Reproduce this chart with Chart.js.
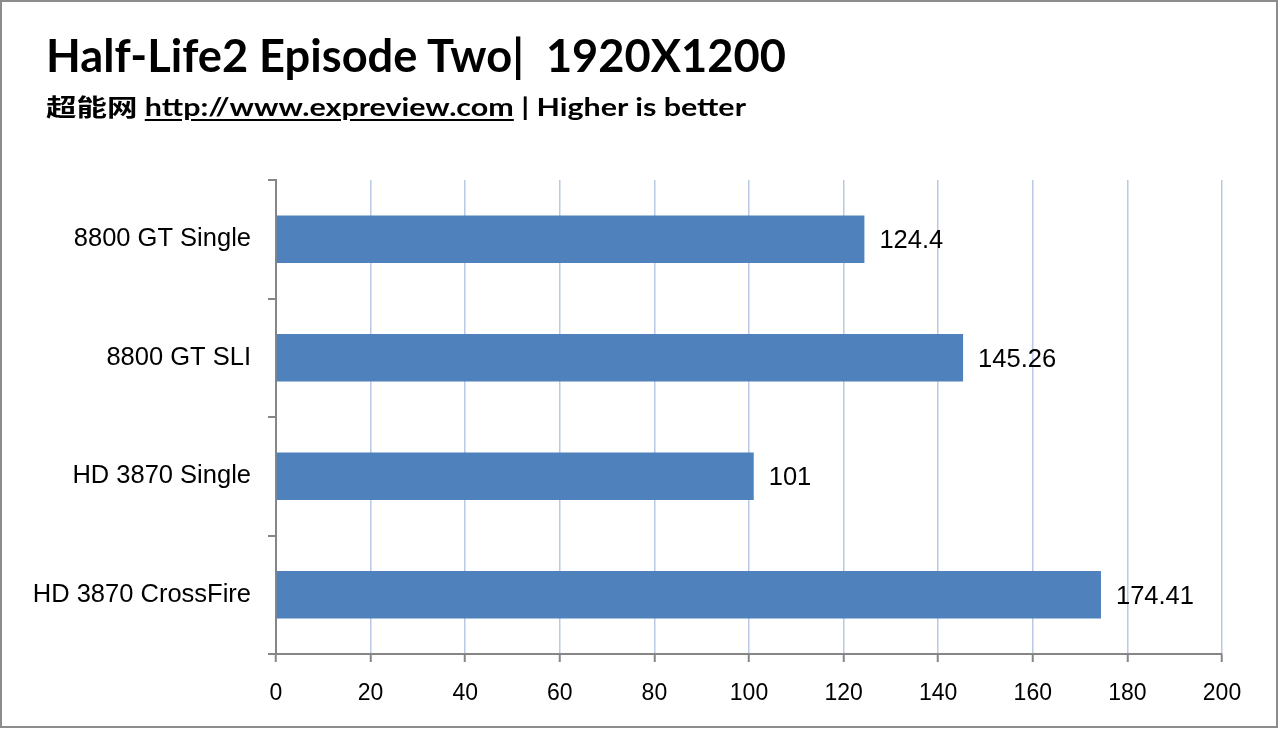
<!DOCTYPE html>
<html>
<head>
<meta charset="utf-8">
<script src="https://cdn.jsdelivr.net/npm/chart.js@4"></script>
<style>
  html, body { margin: 0; padding: 0; background: #fff; }
  #wrap { position: relative; width: 1280px; height: 729px; overflow: hidden; }
  #frame { position: absolute; left: 0; top: 0; width: 1278px; height: 728px; box-sizing: border-box;
           border: 2px solid #8c8c8c; pointer-events: none; }
  .t { position: absolute; left: 46px; white-space: nowrap; color: #000; font-weight: bold;
       transform-origin: 0 0; }
  #title { top: 28px; font: bold 45px Lato, "Noto Sans", sans-serif; }
  #sub { top: 88px; font: bold 24px Lato, "Noto Sans CJK SC", sans-serif; }
  #sub .cn { font-family: "Noto Sans CJK SC", sans-serif; }
  #sub u { text-decoration-thickness: 2px; text-underline-offset: 3px; }
</style>
</head>
<body>
<div id="wrap">
  <canvas id="chart" width="1280" height="729"></canvas>
  <div id="title" class="t">Half-Life2 Episode Two|&nbsp; 1920X1200</div>
  <div id="sub" class="t"><span class="cn">超能网</span> <u>http://www.expreview.com</u> | Higher is better</div>
  <div id="frame"></div>
</div>
<script>
const cards = ['8800 GT Single', '8800 GT SLI', 'HD 3870 Single', 'HD 3870 CrossFire'];
const fps = [124.4, 145.26, 101, 174.41];
const xTicks = [0, 20, 40, 60, 80, 100, 120, 140, 160, 180, 200];

// stretch header text to the widths seen in the picture
function fit(id, w) {
  const el = document.getElementById(id);
  el.style.transform = 'scaleX(' + (w / el.getBoundingClientRect().width) + ')';
}
fit('title', 740);
fit('sub', 700);

const valueLabels = {
  id: 'valueLabels',
  afterDatasetsDraw(chart) {
    const ctx = chart.ctx;
    ctx.save();
    ctx.font = '25.5px "Liberation Sans", Arial, sans-serif';
    ctx.fillStyle = '#000';
    ctx.textBaseline = 'middle';
    chart.getDatasetMeta(0).data.forEach((bar, i) => {
      ctx.fillText(String(fps[i]), bar.x + 15, bar.y + 2);
    });
    ctx.restore();
  }
};

new Chart(document.getElementById('chart').getContext('2d'), {
  type: 'bar',
  data: {
    labels: cards,
    datasets: [{
      data: fps,
      backgroundColor: '#4f81bd',
      barPercentage: 0.4,
      categoryPercentage: 1
    }]
  },
  options: {
    indexAxis: 'y',
    responsive: false,
    animation: false,
    layout: { padding: { top: 180, right: 58, left: 0, bottom: 0 } },
    plugins: { legend: { display: false }, tooltip: { enabled: false } },
    scales: {
      x: {
        min: 0, max: 200,
        afterBuildTicks: s => { s.ticks = xTicks.map(v => ({ value: v })); },
        afterFit: s => { s.height = 75; },
        grid: { color: '#b9c9e6', lineWidth: 1.5, tickColor: '#868686', tickLength: 8, tickWidth: 2 },
        border: { color: '#868686', width: 2 },
        ticks: { color: '#000', padding: 18, font: { family: '"Liberation Sans", Arial, sans-serif', size: 23 } }
      },
      y: {
        afterFit: s => { s.width = 276; },
        grid: { drawOnChartArea: false, offset: true, color: '#868686', tickLength: 8, lineWidth: 2 },
        border: { color: '#868686', width: 2 },
        ticks: { color: '#000', padding: 17, font: { family: '"Liberation Sans", Arial, sans-serif', size: 25.5 } }
      }
    }
  },
  plugins: [valueLabels]
});
</script>
</body>
</html>
